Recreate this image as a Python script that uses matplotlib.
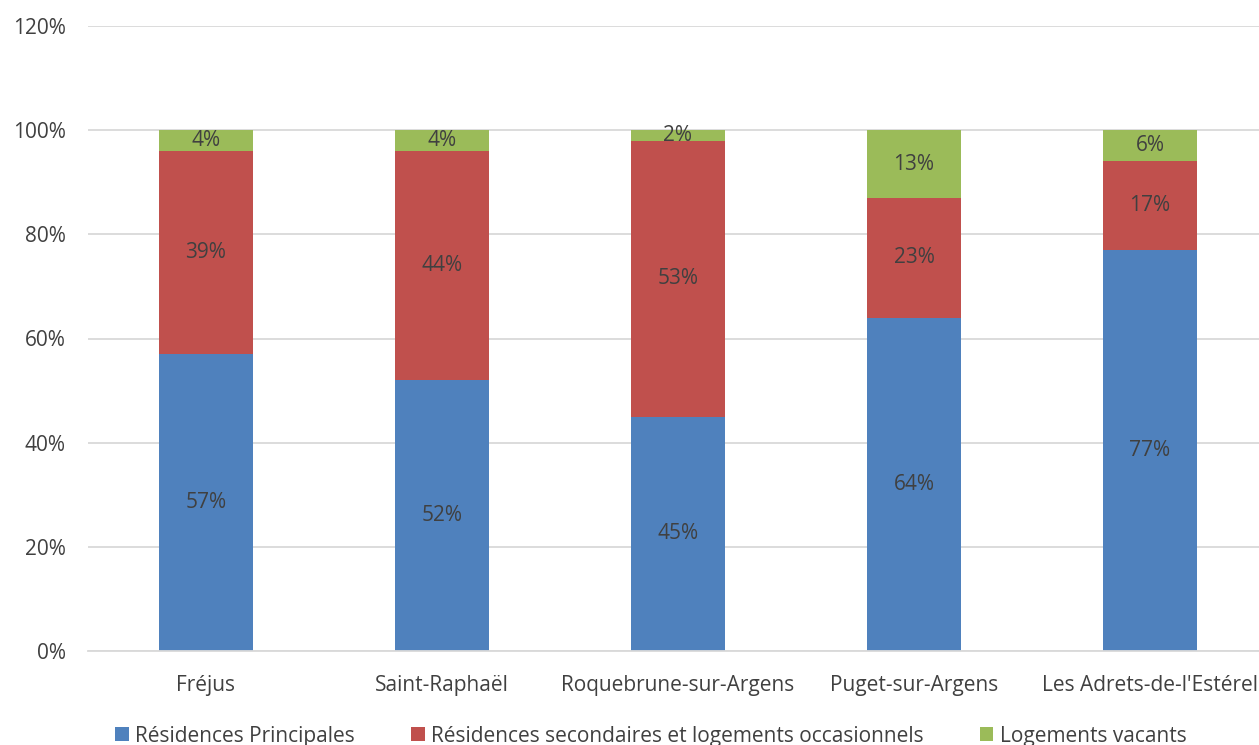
import numpy as np
import matplotlib.pyplot as plt

plt.rcParams["font.family"] = ["Open Sans", "DejaVu Sans"]

communes = ["Fréjus", "Saint-Raphaël", "Roquebrune-sur-Argens", "Puget-sur-Argens",
            "Les Adrets-de-l'Estérel"]
principales = [57, 52, 45, 64, 77]
secondaires = [39, 44, 53, 23, 17]
vacants = [4, 4, 2, 13, 6]

series = [
    ("Résidences Principales", principales, "#4F81BD"),
    ("Résidences secondaires et logements occasionnels", secondaires, "#C0504D"),
    ("Logements vacants", vacants, "#9BBB59"),
]

txt = "#404040"
fig = plt.figure(figsize=(12.59, 7.45), dpi=100)
ax = fig.add_axes([88 / 1259, 94 / 745, 1180 / 1259, 625 / 745])

x = np.arange(len(communes))
bottom = np.zeros(len(communes))
handles = []
for name, vals, color in series:
    vals = np.array(vals, dtype=float)
    b = ax.bar(x, vals, 0.40, bottom=bottom, color=color, label=name, zorder=2)
    handles.append(b)
    for xi, bo, v in zip(x, bottom, vals):
        ax.text(xi, bo + v / 2, f"{int(v)}%", ha="center", va="center",
                fontsize=15, color=txt, zorder=3)
    bottom += vals

ax.set_xlim(-0.5, 4.5)
ax.set_ylim(0, 120)
ax.set_yticks(range(0, 121, 20))
ax.set_yticklabels([f"{v}%" for v in range(0, 121, 20)])
ax.set_xticks(x)
ax.set_xticklabels(communes)
ax.tick_params(axis="both", length=0, labelsize=15, labelcolor=txt)
ax.tick_params(axis="y", pad=16)
ax.tick_params(axis="x", pad=17)
ax.yaxis.grid(True, color="#D9D9D9", linewidth=1.3, zorder=0)
ax.set_axisbelow(True)
for s in ["top", "right", "left"]:
    ax.spines[s].set_visible(False)
ax.spines["bottom"].set_color("#D9D9D9")
ax.spines["bottom"].set_linewidth(1.3)

fig.legend(handles=handles, loc="center", bbox_to_anchor=(0.517, 0.012), ncol=3,
           frameon=False, fontsize=15, labelcolor=txt, handlelength=0.65,
           handleheight=0.65, handletextpad=0.3, columnspacing=2.7)

fig.savefig("out.png", dpi=100)
